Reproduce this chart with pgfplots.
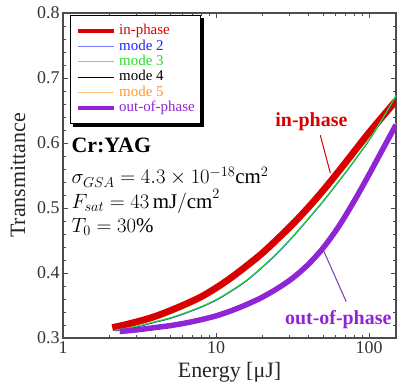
\documentclass[border=0pt]{standalone}
\usepackage{fontspec}
\setmainfont{Liberation Serif}
\usepackage{pgfplots}
\pgfplotsset{compat=1.18}
\usetikzlibrary{backgrounds}
\definecolor{cred}{HTML}{D80000}
\definecolor{cblue}{HTML}{2020FF}
\definecolor{cgreen}{HTML}{22E022}
\definecolor{corange}{HTML}{FF9933}
\definecolor{cpurple}{HTML}{9025D5}
\definecolor{cpoint}{HTML}{7A3AAA}
\begin{document}
\begin{tikzpicture}
\begin{axis}[
  at={(0,0)}, anchor=south west,
  scale only axis, width=333bp, height=325bp,
  xmode=log, xmin=1, xmax=150, ymin=0.3, ymax=0.8,
  xtick={1,10,100}, xticklabels={1,10,100},
  ytick={0.3,0.4,0.5,0.6,0.7,0.8},
  yticklabels={0.3,0.4,0.5,0.6,0.7,0.8},
  minor y tick num=4,
  /pgf/number format/assume math mode=true,
  tick label style={font=\fontsize{18}{18}\selectfont, text=black!80},
  label style={font=\fontsize{22}{22}\selectfont, text=black!85},
  xlabel={Energy [μJ]}, ylabel={Transmittance},
  xlabel style={at={(axis description cs:0.5,-0.105)}, anchor=center},
  ylabel style={at={(axis description cs:-0.135,0.5)}, anchor=center},
  tick align=inside, major tick length=5bp, minor tick length=3bp,
  axis line style={line width=1.1bp, black!70},
  every tick/.style={black!70, line width=0.8bp},
  legend style={name=leg, at={(rel axis cs:0.021,0.994)}, anchor=north west,
    draw=black, line width=1.2bp, fill=white,
    font=\fontsize{15}{15}\selectfont,
    inner xsep=5.5bp, inner ysep=8bp, row sep=0.2bp,
    nodes={inner sep=0.6bp, text height=10.5bp, text depth=3.5bp},
    /tikz/every odd column/.append style={column sep=2.5bp}},
  legend cell align=left,
  legend image code/.code={\draw[#1] (0bp,0bp) -- (36bp,0bp);},
]
\addlegendimage{cred, line width=4bp}
\addlegendentry{\textcolor{cred}{in-phase}}
\addlegendimage{cblue!60, line width=1bp}
\addlegendentry{\textcolor{cblue}{mode 2}}
\addlegendimage{cgreen!70, line width=1bp}
\addlegendentry{\textcolor{cgreen}{mode 3}}
\addlegendimage{black, line width=1.2bp}
\addlegendentry{mode 4}
\addlegendimage{corange!60, line width=1bp}
\addlegendentry{\textcolor{corange}{mode 5}}
\addlegendimage{cpurple, line width=4bp}
\addlegendentry{\textcolor{cpurple}{out-of-phase}}

% in-phase
\addplot[cred, line width=6.8bp, smooth, forget plot] coordinates {
(2.1,0.316) (2.51,0.320) (3.16,0.326) (3.98,0.333) (5.01,0.342) (6.31,0.352)
(7.94,0.363) (10,0.377) (12.59,0.393) (15.85,0.411) (19.95,0.430) (25.12,0.452)
(31.62,0.475) (39.81,0.500) (50.12,0.527) (63.1,0.556) (79.43,0.586)
(100,0.616) (125.9,0.644) (150,0.665)};
% mode 2
\addplot[cblue, line width=1bp, smooth, forget plot] coordinates {
(2.2,0.311) (2.51,0.3134) (3.16,0.318) (3.98,0.324) (5.01,0.330) (6.31,0.338)
(7.94,0.347) (10,0.358) (12.59,0.372) (15.85,0.388) (19.95,0.408) (25.12,0.430)
(31.62,0.455) (39.81,0.482) (50.12,0.510) (63.1,0.540) (79.43,0.571)
(100,0.604) (125.9,0.641) (150,0.672)};
% mode 3
\addplot[cgreen, line width=1.2bp, smooth, forget plot] coordinates {
(2.2,0.312) (2.51,0.3144) (3.16,0.319) (3.98,0.325) (5.01,0.331) (6.31,0.339)
(7.94,0.348) (10,0.359) (12.59,0.373) (15.85,0.389) (19.95,0.409) (25.12,0.431)
(31.62,0.456) (39.81,0.483) (50.12,0.511) (63.1,0.541) (79.43,0.572)
(100,0.605) (125.9,0.642) (150,0.673)};
% mode 4
\addplot[black, line width=1bp, smooth, forget plot] coordinates {
(2.35,0.308) (2.51,0.3086) (3.16,0.311) (3.98,0.314) (5.01,0.317) (6.31,0.321)
(7.94,0.326) (10,0.332) (12.59,0.340) (15.85,0.3495) (19.95,0.3605) (25.12,0.374)
(31.62,0.390) (39.81,0.4105) (50.12,0.4365) (63.1,0.469) (79.43,0.5075)
(100,0.5495) (125.9,0.593) (150,0.626)};
% mode 5
\addplot[corange, line width=1.2bp, smooth, forget plot] coordinates {
(2.35,0.3125) (2.51,0.3131) (3.16,0.3155) (3.98,0.3185) (5.01,0.3215) (6.31,0.3255)
(7.94,0.3305) (10,0.3365) (12.59,0.3445) (15.85,0.354) (19.95,0.365) (25.12,0.3785)
(31.62,0.3945) (39.81,0.415) (50.12,0.441) (63.1,0.4735) (79.43,0.512)
(100,0.554) (125.9,0.5975) (150,0.6305)};
% out-of-phase
\addplot[cpurple, line width=5.5bp, smooth, forget plot] coordinates {
(2.35,0.310) (2.51,0.3106) (3.16,0.313) (3.98,0.316) (5.01,0.319) (6.31,0.323)
(7.94,0.328) (10,0.334) (12.59,0.342) (15.85,0.3515) (19.95,0.3625) (25.12,0.376)
(31.62,0.392) (39.81,0.4125) (50.12,0.4385) (63.1,0.471) (79.43,0.5095)
(100,0.5515) (125.9,0.595) (150,0.628)};

\draw[cred, line width=1bp] (axis cs:48,0.612) -- (axis cs:55.8,0.554);
\node[font=\fontsize{20}{20}\selectfont\bfseries, text=cred] at (axis cs:42,0.632) {in-phase};
\draw[cpoint, line width=1bp] (axis cs:70.9,0.356) -- (axis cs:50.3,0.435);
\node[font=\fontsize{20}{20}\selectfont\bfseries, text=cpurple] at (axis cs:62.9,0.329) {out-of-phase};

\node[anchor=base west, font=\fontsize{22}{22}\selectfont\bfseries] at (rel axis cs:0.015,0.572) {Cr:YAG};
\node[anchor=base west, font=\fontsize{21}{21}\selectfont] at (rel axis cs:0.015,0.474) {$\sigma_{GSA} = 4.3\times 10^{-18}\mathrm{cm}^2$};
\node[anchor=base west, font=\fontsize{21}{21}\selectfont] at (rel axis cs:0.015,0.400) {$F_{sat} = 43\,\mathrm{mJ/cm}^2$};
\node[anchor=base west, font=\fontsize{21}{21}\selectfont] at (rel axis cs:0.015,0.326) {$T_0 = 30\%$};
\end{axis}
\begin{scope}[on background layer]
\fill[black] ([xshift=2.6bp,yshift=-2.6bp]leg.south west) rectangle ([xshift=2.6bp,yshift=-2.6bp]leg.north east);
\end{scope}
\pgfresetboundingbox
\path[use as bounding box] (-63bp,-50bp) rectangle (335bp,338bp);
\end{tikzpicture}
\end{document}
